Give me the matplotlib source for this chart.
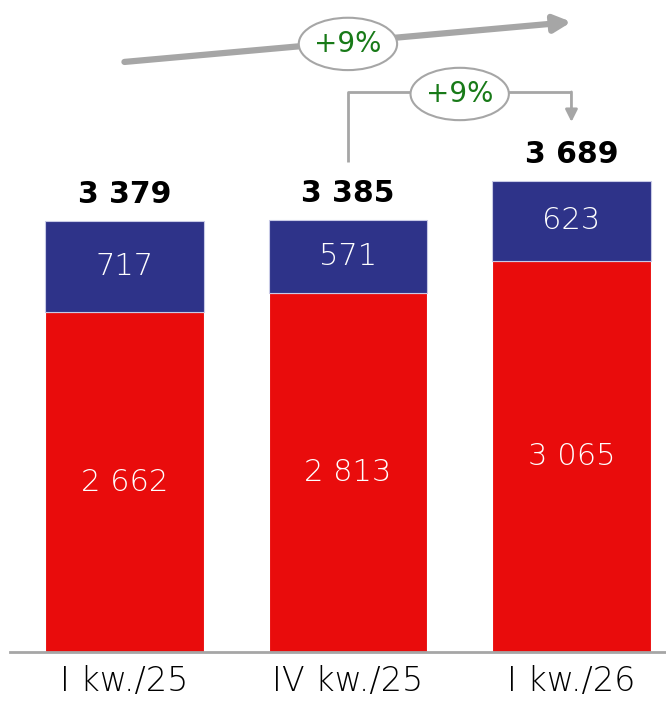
import numpy as np
import matplotlib.pyplot as plt
from matplotlib.patches import Ellipse

# data
categories = ["I kw./25", "IV kw./25", "I kw./26"]
red_vals = [2662, 2813, 3065]
blue_vals = [717, 571, 623]
totals = [3379, 3385, 3689]
change_labels = ["+9%", "+9%"]

RED = "#e90c0c"
BLUE = "#2e3389"
GREY = "#a6a6a6"
GREEN = "#187a18"

def fmt(v):
    return "{:,}".format(v).replace(",", " ")

fig = plt.figure(figsize=(6.66, 7.01), dpi=100)
ax = fig.add_axes([10 / 666, 49 / 701, 656 / 666, 652 / 701])

x = np.arange(len(categories))
w = 0.71
ax.bar(x, red_vals, width=w, color=RED, edgecolor="white", linewidth=0.8)
ax.bar(x, blue_vals, width=w, bottom=red_vals, color=BLUE, edgecolor="#c8cae6", linewidth=0.8)

for i in range(len(x)):
    ax.text(x[i], red_vals[i] / 2, fmt(red_vals[i]), ha="center", va="center",
            color="white", fontsize=22, fontweight="light")
    ax.text(x[i], red_vals[i] + blue_vals[i] / 2, fmt(blue_vals[i]), ha="center",
            va="center", color="white", fontsize=22, fontweight="light")
    ax.annotate(fmt(totals[i]), (x[i], totals[i]), xytext=(0, 19),
                textcoords="offset points", ha="center", va="center",
                fontsize=21.5, fontweight="bold", color="black")

# long trend arrow with ellipse
ax.annotate("", xy=(2.0, 4934), xytext=(0.0, 4621),
            arrowprops=dict(arrowstyle="-|>", color=GREY, lw=4.5,
                            mutation_scale=25, shrinkA=0, shrinkB=0))
ax.add_patch(Ellipse((1.0, 4762), 0.44, 410, facecolor="white",
                     edgecolor=GREY, lw=1.5, zorder=5))
ax.text(1.0, 4762, change_labels[0], ha="center", va="center", color=GREEN,
        fontsize=20, zorder=6)

# bracket arrow from bar 2 to bar 3
ax.plot([1.0, 1.0, 2.0], [3838, 4386, 4386], color=GREY, lw=2, solid_capstyle="butt")
ax.annotate("", xy=(2.0, 4151), xytext=(2.0, 4386),
            arrowprops=dict(arrowstyle="-|>", color=GREY, lw=2,
                            mutation_scale=18, shrinkA=0, shrinkB=0))
ax.add_patch(Ellipse((1.5, 4370), 0.44, 410, facecolor="white",
                     edgecolor=GREY, lw=1.5, zorder=5))
ax.text(1.5, 4370, change_labels[1], ha="center", va="center", color=GREEN,
        fontsize=20, zorder=6)

ax.set_xlim(-0.512, 2.423)
ax.set_ylim(0, 5106)
ax.set_xticks(x)
ax.set_xticklabels(categories, fontsize=24, fontweight="light")
ax.tick_params(axis="x", length=0, pad=9)
ax.set_yticks([])
for s in ["top", "right", "left"]:
    ax.spines[s].set_visible(False)
ax.spines["bottom"].set_color(GREY)
ax.spines["bottom"].set_linewidth(2)

fig.savefig("out.png", dpi=100)
